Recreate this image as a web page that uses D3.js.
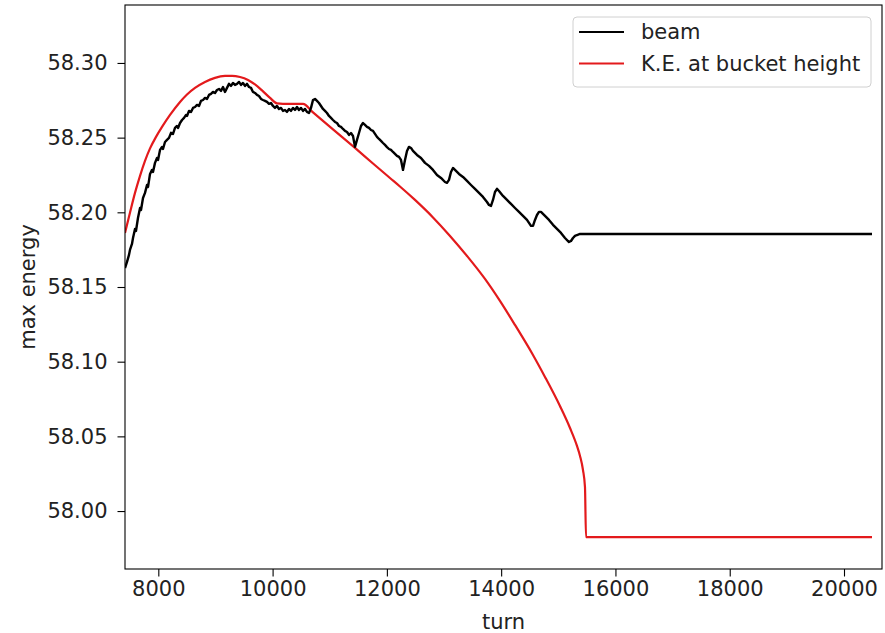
<!DOCTYPE html>
<html>
<head>
<meta charset="utf-8">
<script src="https://cdn.jsdelivr.net/npm/d3@7/dist/d3.min.js"></script>
<style>
  html, body { margin: 0; padding: 0; background: #fff; }
  svg { display: block; font-family: "DejaVu Sans", sans-serif; }
</style>
</head>
<body>
<svg id="chart" width="885" height="633"></svg>
<script>
// ---------- data ----------
const xTicks = [8000, 10000, 12000, 14000, 16000, 18000, 20000];
const yTicks = [58.00, 58.05, 58.10, 58.15, 58.20, 58.25, 58.30];
const seriesNames = ["beam", "K.E. at bucket height"];

const beamTurn = [
  7417, 7452, 7487, 7504, 7539, 7557, 7592, 7609, 7644, 7680, 7697, 7732, 7767, 7802, 7820, 7855,
  7890, 7907, 7942, 7977, 7995, 8030, 8065, 8082, 8117, 8152, 8187, 8222, 8257, 8292, 8327, 8345,
  8380, 8415, 8450, 8485, 8502, 8537, 8572, 8607, 8642, 8677, 8712, 8747, 8782, 8817, 8852, 8887,
  8922, 8957, 8992, 9027, 9062, 9097, 9132, 9167, 9202, 9237, 9272, 9307, 9342, 9377, 9412, 9447,
  9482, 9517, 9552, 9587, 9622, 9657, 9692, 9727, 9762, 9797, 9832, 9867, 9902, 9937, 9972, 10007,
  10042, 10077, 10112, 10147, 10182, 10217, 10252, 10287, 10322, 10357, 10392, 10427, 10462, 10497,
  10532, 10567, 10602, 10637, 10672, 10707, 10742, 10777, 10812, 10847, 10882, 10917, 10952, 10987,
  11022, 11057, 11092, 11127, 11162, 11197, 11232, 11267, 11302, 11337, 11372, 11407, 11442, 11477,
  11512, 11547, 11582, 11617, 11652, 11687, 11722, 11757, 11792, 11827, 11862, 11897, 11932, 11967,
  12002, 12037, 12072, 12107, 12142, 12177, 12212, 12247, 12282, 12317, 12352, 12387, 12422, 12457,
  12527, 12597, 12667, 12737, 12807, 12877, 12947, 13017, 13052, 13087, 13122, 13157, 13192, 13262,
  13332, 13402, 13472, 13542, 13612, 13682, 13752, 13787, 13822, 13857, 13892, 13927, 13962, 14032,
  14102, 14172, 14242, 14312, 14382, 14452, 14522, 14557, 14592, 14627, 14662, 14697, 14767, 14837,
  14907, 14977, 15047, 15117, 15187, 15222, 15257, 15292, 15327, 15380, 20490
];
const beamEnergy = [
  58.1627, 58.1668, 58.1715, 58.1748, 58.1788, 58.1828, 58.1889, 58.1875, 58.1962, 58.2029, 58.2016, 58.2096, 58.2130, 58.2183, 58.2170, 58.2257,
  58.2284, 58.2270, 58.2331, 58.2364, 58.2351, 58.2418, 58.2438, 58.2424, 58.2471, 58.2485, 58.2498, 58.2532, 58.2525, 58.2565, 58.2578, 58.2565,
  58.2598, 58.2618, 58.2632, 58.2652, 58.2645, 58.2679, 58.2672, 58.2699, 58.2705, 58.2719, 58.2712, 58.2746, 58.2752, 58.2766, 58.2759, 58.2786,
  58.2793, 58.2806, 58.2799, 58.2819, 58.2826, 58.2813, 58.2839, 58.2806, 58.2833, 58.2860, 58.2846, 58.2866, 58.2853, 58.2860, 58.2873, 58.2853,
  58.2866, 58.2846, 58.2860, 58.2839, 58.2833, 58.2806, 58.2799, 58.2786, 58.2779, 58.2759, 58.2752, 58.2746, 58.2739, 58.2726, 58.2732, 58.2712,
  58.2699, 58.2712, 58.2692, 58.2699, 58.2679, 58.2685, 58.2672, 58.2692, 58.2679, 58.2699, 58.2685, 58.2705, 58.2685, 58.2699,
  58.2679, 58.2692, 58.2672, 58.2665, 58.2699, 58.2752, 58.2759, 58.2746, 58.2732, 58.2712, 58.2692, 58.2679, 58.2665, 58.2645,
  58.2632, 58.2618, 58.2605, 58.2598, 58.2578, 58.2572, 58.2558, 58.2545, 58.2538, 58.2518, 58.2531, 58.2511, 58.2438, 58.2485,
  58.2531, 58.2578, 58.2598, 58.2585, 58.2572, 58.2565, 58.2551, 58.2545, 58.2525, 58.2505, 58.2491, 58.2478, 58.2464, 58.2451,
  58.2437, 58.2424, 58.2418, 58.2404, 58.2391, 58.2378, 58.2371, 58.2351, 58.2284, 58.2351, 58.2411, 58.2438, 58.2431, 58.2411,
  58.2384, 58.2364, 58.2331, 58.2311, 58.2284, 58.2250, 58.2230, 58.2203, 58.2197, 58.2217, 58.2270, 58.2297, 58.2284, 58.2257,
  58.2237, 58.2210, 58.2183, 58.2157, 58.2130, 58.2103, 58.2069, 58.2049, 58.2043, 58.2083, 58.2136, 58.2157, 58.2143, 58.2110,
  58.2083, 58.2056, 58.2029, 58.2003, 58.1976, 58.1949, 58.1909, 58.1909, 58.1949, 58.1982, 58.2003, 58.2003, 58.1976, 58.1949,
  58.1916, 58.1889, 58.1862, 58.1828, 58.1801, 58.1808, 58.1828, 58.1842, 58.1848, 58.1855, 58.1855
];

const keTurn = [
  7417, 7505, 7592, 7680, 7767, 7855, 7960, 8065, 8205, 8380, 8502, 8642, 8817, 8992, 9167, 9290,
  9430, 9570, 9692, 9815, 9955, 10077, 10182, 10357, 10532, 10707, 11057, 11442, 11757, 12054,
  12229, 12492, 12807, 13105, 13402, 13717, 13979, 14242, 14557, 14767, 15029, 15205, 15327,
  15380, 15432, 15467, 15485, 20490
];
const keEnergy = [
  58.1862, 58.1999, 58.2130, 58.2244, 58.2344, 58.2428, 58.2505, 58.2572, 58.2652, 58.2739, 58.2789, 58.2833, 58.2873, 58.2900, 58.2913, 58.2914,
  58.2906, 58.2886, 58.2856, 58.2816, 58.2766, 58.2729, 58.2726, 58.2726, 58.2726, 58.2669, 58.2555, 58.2431, 58.2327, 58.2230,
  58.2173, 58.2083, 58.1966, 58.1842, 58.1708, 58.1554, 58.1407, 58.1246, 58.1045, 58.0898, 58.0703, 58.0556, 58.0436,
  58.0369, 58.0275, 58.0161, 57.9826, 57.9826
];

// ---------- layout ----------
const svg = d3.select("#chart");
const M = { left: 125, right: 882, top: 5, bottom: 569 };
const x = d3.scaleLinear().domain([7417, 20665]).range([M.left, M.right]);
const y = d3.scaleLinear().domain([57.9612, 58.3388]).range([M.bottom, M.top]);
const FS = 21;

svg.append("defs").append("clipPath").attr("id", "clip")
  .append("rect").attr("x", M.left).attr("y", M.top)
  .attr("width", M.right - M.left).attr("height", M.bottom - M.top);

const beam = beamTurn.map((t, i) => [t, beamEnergy[i]]);
const ke = keTurn.map((t, i) => [t, keEnergy[i]]);
const beamLine = d3.line().x(d => x(d[0])).y(d => y(d[1]));
const keLine = d3.line().x(d => x(d[0])).y(d => y(d[1])).curve(d3.curveMonotoneX);

const g = svg.append("g").attr("clip-path", "url(#clip)");
g.append("path").datum(ke).attr("d", keLine).attr("fill", "none")
  .attr("stroke", "#e31a1c").attr("stroke-width", 2.2).attr("stroke-linejoin", "round");
g.append("path").datum(beam).attr("d", beamLine).attr("fill", "none")
  .attr("stroke", "#000").attr("stroke-width", 2.4).attr("stroke-linejoin", "round");

// axes
const xAxis = d3.axisBottom(x).tickValues(xTicks).tickFormat(d3.format("d")).tickSize(7.5).tickPadding(5);
const yAxis = d3.axisLeft(y).tickValues(yTicks).tickFormat(d3.format(".2f")).tickSize(7.5).tickPadding(10);

const gx = svg.append("g").attr("transform", `translate(0,${M.bottom})`).call(xAxis);
const gy = svg.append("g").attr("transform", `translate(${M.left},0)`).call(yAxis);
[gx, gy].forEach(a => {
  a.select(".domain").remove();
  a.selectAll("line").attr("stroke", "#000").attr("stroke-width", 1.1);
  a.selectAll("text").attr("fill", "#222").style("font-size", FS + "px")
    .style("font-family", "DejaVu Sans, sans-serif");
});

// frame
svg.append("rect").attr("x", M.left).attr("y", M.top)
  .attr("width", M.right - M.left).attr("height", M.bottom - M.top)
  .attr("fill", "none").attr("stroke", "#000").attr("stroke-width", 1.1);

// axis labels
svg.append("text").attr("x", (M.left + M.right) / 2).attr("y", 629)
  .attr("text-anchor", "middle").style("font-size", FS + "px").attr("fill", "#222").text("turn");
svg.append("text").attr("transform", `translate(35,${(M.top + M.bottom) / 2}) rotate(-90)`)
  .attr("text-anchor", "middle").style("font-size", FS + "px").attr("fill", "#222").text("max energy");

// legend
const lg = svg.append("g");
lg.append("rect").attr("x", 573).attr("y", 17).attr("width", 298).attr("height", 70)
  .attr("rx", 4).attr("fill", "#fff").attr("fill-opacity", 0.8)
  .attr("stroke", "#d0d0d0").attr("stroke-width", 1);
const colors = ["#000", "#e31a1c"];
seriesNames.forEach((n, i) => {
  const yy = 32 + i * 31.5;
  lg.append("line").attr("x1", 579).attr("x2", 624).attr("y1", yy).attr("y2", yy)
    .attr("stroke", colors[i]).attr("stroke-width", 2.2);
  lg.append("text").attr("x", 641).attr("y", yy).attr("dy", "0.35em")
    .style("font-size", FS + "px").attr("fill", "#222").text(n);
});
</script>
</body>
</html>
